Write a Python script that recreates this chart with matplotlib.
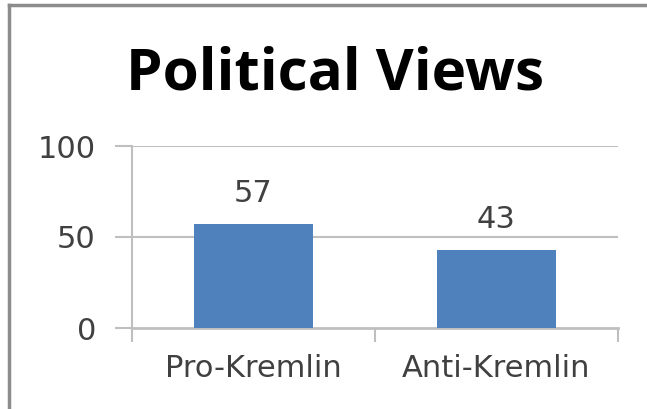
import matplotlib
matplotlib.use("Agg")
import matplotlib.pyplot as plt
from matplotlib.lines import Line2D

categories = ["Pro-Kremlin", "Anti-Kremlin"]
values = [57, 43]
yticks = [0, 50, 100]
title = "Political Views"

W, H = 647, 409
FONT = "DejaVu Sans"
fig = plt.figure(figsize=(W/100, H/100), dpi=100)
fig.patch.set_facecolor("white")

ax = fig.add_axes([132/W, 1-328/H, (618-132)/W, (328-146)/H])
x = list(range(len(categories)))
bars = ax.bar(x, values, width=0.49, color="#4F81BD", zorder=3)
ax.set_xlim(-0.5, len(categories)-0.5)
ax.set_ylim(0, 100)
ax.set_yticks(yticks)
ax.set_yticklabels([str(v) for v in yticks], fontsize=22, color="#404040", family=FONT)
ax.set_xticks(x)
ax.set_xticklabels(categories, fontsize=22, color="#404040", family=FONT)
ax.tick_params(axis="x", length=0, pad=19)
ax.tick_params(axis="y", length=12, color="#BFBFBF", width=1.5, pad=14)
ax.set_xticks([-0.5, 0.5, 1.5], minor=True)
ax.tick_params(axis="x", which="minor", length=10, color="#BFBFBF", width=1.5)
for s in ["top", "right"]:
    ax.spines[s].set_visible(False)
ax.spines["left"].set_color("#BFBFBF")
ax.spines["left"].set_linewidth(1.5)
ax.spines["bottom"].set_color("#BFBFBF")
ax.spines["bottom"].set_linewidth(2)
for v in yticks[1:]:
    ax.axhline(v, color="#BFBFBF", lw=1.5, zorder=1)
for b, v in zip(bars, values):
    ax.annotate(str(v), (b.get_x()+b.get_width()/2, v), xytext=(0, 16),
                textcoords="offset points", ha="center", va="baseline",
                fontsize=22, color="#404040", family=FONT)

fig.text(335/W, 1-89/H, title, ha="center", va="baseline", fontsize=42,
         fontweight="bold", family="Open Sans", color="black")

fig.add_artist(Line2D([9/W, 1.0], [1-5/H, 1-5/H], color="#8C8C8C", lw=2.5))
fig.add_artist(Line2D([9/W, 9/W], [0, 1-5/H], color="#8C8C8C", lw=2.5))

fig.savefig("out.png", dpi=100)
